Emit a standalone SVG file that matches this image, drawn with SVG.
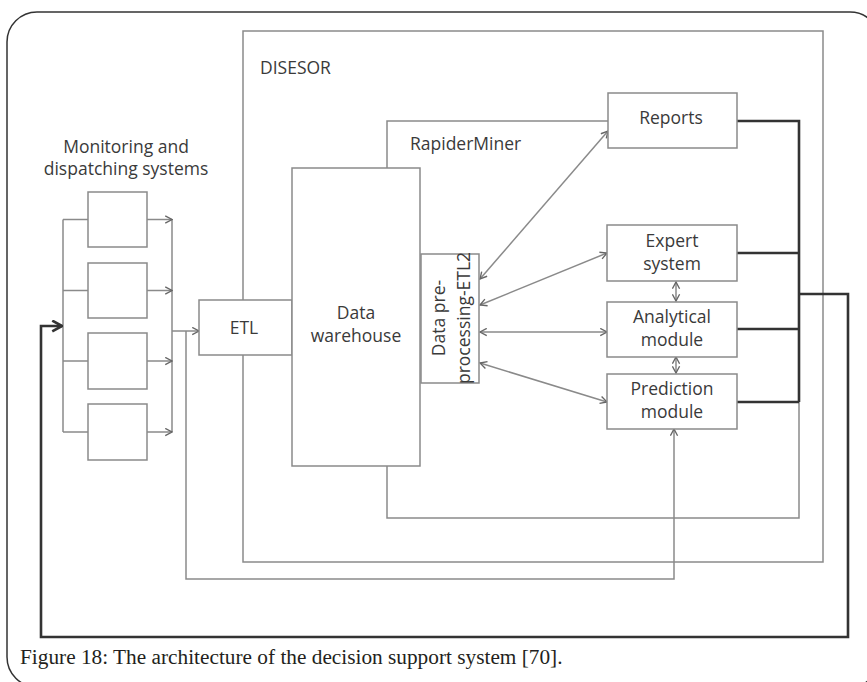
<svg xmlns="http://www.w3.org/2000/svg" width="867" height="682" viewBox="0 0 867 682">
  <style>
    .box { fill: #fff; stroke: #8a8a8a; stroke-width: 1.5; }
    .frame { fill: none; stroke: #8a8a8a; stroke-width: 1.5; }
    .lbl { font-family: "Open Sans", "Liberation Sans", sans-serif; font-size: 17.5px; fill: #3a3a3a; text-anchor: middle; }
    .lbl-start { font-family: "Open Sans", "Liberation Sans", sans-serif; font-size: 17.5px; fill: #3a3a3a; }
    .thin { fill: none; stroke: #8a8a8a; stroke-width: 1.5; }
    .thick { fill: none; stroke: #333; stroke-width: 2.6; }
    .cap { font-family: "Liberation Serif", "Times New Roman", serif; font-size: 21.3px; fill: #231f20; }
  </style>
  <defs>
    <marker id="arr" viewBox="0 0 10 10" refX="9" refY="5" markerWidth="9" markerHeight="9" markerUnits="userSpaceOnUse" orient="auto-start-reverse">
      <path d="M1.5,1 L9,5 L1.5,9" fill="none" stroke="#666" stroke-width="1.5"/>
    </marker>
    <marker id="arrBold" viewBox="0 0 12 12" refX="11" refY="6" markerWidth="13" markerHeight="13" markerUnits="userSpaceOnUse" orient="auto">
      <path d="M2,1 L11,6 L2,11" fill="none" stroke="#333" stroke-width="2.4"/>
    </marker>
  </defs>

  <!-- card background and border -->
  <rect x="7" y="12" width="873" height="675" rx="30" ry="30" fill="#fff" stroke="#333" stroke-width="1.5"/>

  <!-- DISESOR container -->
  <g id="disesor">
    <rect class="frame" x="243" y="31" width="580" height="531"/>
    <text class="lbl-start" x="260" y="74" font-size="19">DISESOR</text>
  </g>

  <!-- connectors -->
  <g id="connectors">
    <!-- monitoring systems: input bus -->
    <path class="thin" d="M63,219.5 V432 M63,219.5 H88 M63,290.5 H88 M63,361 H88 M63,432 H88"/>
    <!-- monitoring systems: output bus -->
    <path class="thin" d="M172,219 V432"/>
    <line class="thin" x1="147" y1="219.5" x2="172" y2="219.5" marker-end="url(#arr)"/>
    <line class="thin" x1="147" y1="290.5" x2="172" y2="290.5" marker-end="url(#arr)"/>
    <line class="thin" x1="147" y1="361" x2="172" y2="361" marker-end="url(#arr)"/>
    <line class="thin" x1="147" y1="432" x2="172" y2="432" marker-end="url(#arr)"/>
    <!-- into ETL -->
    <line class="thin" x1="172" y1="331" x2="199" y2="331" marker-end="url(#arr)"/>
    <!-- raw data feed into prediction module -->
    <path class="thin" d="M186,331 V579 H674 V429" marker-end="url(#arr)"/>
    <!-- RapiderMiner boundary -->
    <path class="thin" d="M387,168 V121 H608"/>
    <!-- warehouse loop back from result bus -->
    <path class="thin" d="M387,466 V518 H799 V402"/>
    <!-- ETL2 links -->
    <line class="thin" x1="480" y1="279" x2="608" y2="131" marker-start="url(#arr)" marker-end="url(#arr)"/>
    <line class="thin" x1="480" y1="305" x2="607" y2="253" marker-start="url(#arr)" marker-end="url(#arr)"/>
    <line class="thin" x1="480" y1="332" x2="607" y2="332" marker-start="url(#arr)" marker-end="url(#arr)"/>
    <line class="thin" x1="480" y1="363" x2="607" y2="402" marker-start="url(#arr)" marker-end="url(#arr)"/>
    <!-- module links -->
    <line class="thin" x1="676" y1="282" x2="676" y2="301" marker-start="url(#arr)" marker-end="url(#arr)"/>
    <line class="thin" x1="676" y1="357" x2="676" y2="373" marker-start="url(#arr)" marker-end="url(#arr)"/>
    <!-- result bus -->
    <path class="thick" d="M737,121 H799 V402 M737,253 H799 M737,329 H799 M737,402 H799"/>
    <!-- feedback to monitoring systems -->
    <path class="thick" d="M799,294 H848 V637 H41 V326 H62" marker-end="url(#arrBold)"/>
  </g>

  <!-- monitoring and dispatching systems -->
  <g id="monitoring">
    <text class="lbl" x="126" y="153" font-size="17">Monitoring and</text>
    <text class="lbl" x="126" y="175" font-size="17">dispatching systems</text>
  </g>
  <g id="system-1"><rect class="box" x="88" y="192" width="59" height="55"/></g>
  <g id="system-2"><rect class="box" x="88" y="263" width="59" height="55"/></g>
  <g id="system-3"><rect class="box" x="88" y="333" width="59" height="56"/></g>
  <g id="system-4"><rect class="box" x="88" y="404" width="59" height="56"/></g>

  <g id="etl">
    <rect class="box" x="199" y="300" width="93" height="55"/>
    <text class="lbl" x="244" y="334">ETL</text>
  </g>

  <g id="data-warehouse">
    <rect class="box" x="292" y="168" width="128" height="298"/>
    <text class="lbl" x="356" y="319">Data</text>
    <text class="lbl" x="356" y="342">warehouse</text>
  </g>

  <g id="rapiderminer">
    <text class="lbl-start" x="410" y="150">RapiderMiner</text>
  </g>

  <g id="etl2">
    <rect class="box" x="421" y="254" width="58" height="129"/>
    <g transform="translate(458,318) rotate(-90)">
      <text class="lbl" x="0" y="-13" font-size="15">Data pre-</text>
      <text class="lbl" x="0" y="12" font-size="15">processing-ETL2</text>
    </g>
  </g>

  <g id="reports">
    <rect class="box" x="608" y="93" width="129" height="55"/>
    <text class="lbl" x="671" y="124">Reports</text>
  </g>

  <g id="expert-system">
    <rect class="box" x="607" y="225" width="130" height="56"/>
    <text class="lbl" x="672" y="247">Expert</text>
    <text class="lbl" x="672" y="270">system</text>
  </g>

  <g id="analytical-module">
    <rect class="box" x="607" y="302" width="130" height="55"/>
    <text class="lbl" x="672" y="323">Analytical</text>
    <text class="lbl" x="672" y="346">module</text>
  </g>

  <g id="prediction-module">
    <rect class="box" x="607" y="374" width="130" height="55"/>
    <text class="lbl" x="672" y="395">Prediction</text>
    <text class="lbl" x="672" y="418">module</text>
  </g>

  <text class="cap" x="20" y="664">Figure 18: The architecture of the decision support system [70].</text>
</svg>
